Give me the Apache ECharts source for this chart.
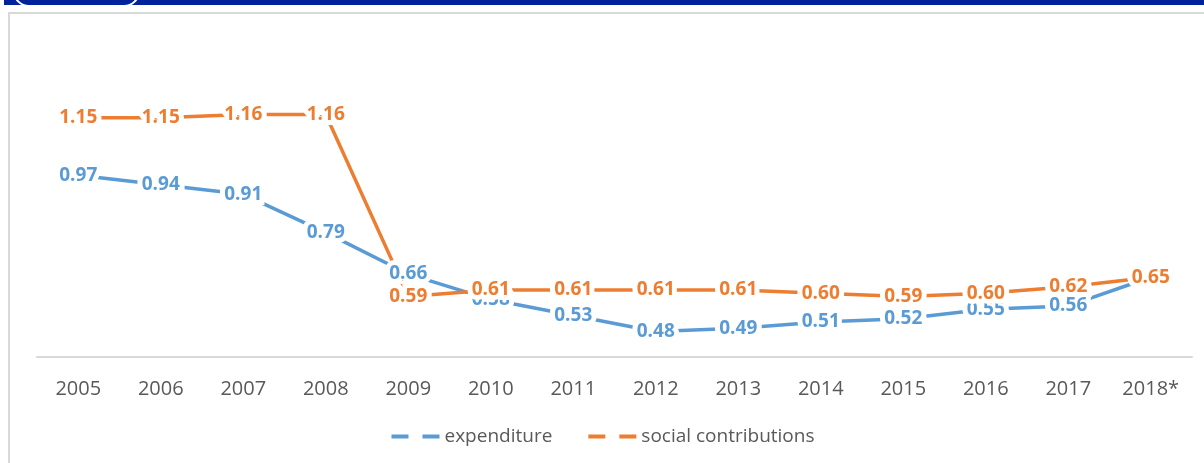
<!DOCTYPE html>
<html>
<head>
<meta charset="utf-8">
<script src="https://cdn.jsdelivr.net/npm/echarts@6/dist/echarts.min.js"></script>
<style>
  html, body { margin: 0; padding: 0; background: #fff; }
  #chart { width: 1204px; height: 463px; }
</style>
</head>
<body>
<div id="chart"></div>
<script>
const years = ['2005', '2006', '2007', '2008', '2009', '2010', '2011', '2012', '2013', '2014', '2015', '2016', '2017', '2018*'];
const expenditure = [0.97, 0.94, 0.91, 0.79, 0.66, 0.58, 0.53, 0.48, 0.49, 0.51, 0.52, 0.55, 0.56, 0.65];
const socialContributions = [1.15, 1.15, 1.16, 1.16, 0.59, 0.61, 0.61, 0.61, 0.61, 0.60, 0.59, 0.60, 0.62, 0.65];

const BLUE = '#5B9BD5';
const ORANGE = '#ED7D31';
const FONT = '"Open Sans", "Liberation Sans", sans-serif';

const chart = echarts.init(document.getElementById('chart'));

// white halo round the glyphs so the line breaks around the label
const makeLabel = (color) => ({
  show: true,
  position: 'inside',
  color: color,
  fontFamily: FONT,
  fontWeight: 'bold',
  fontSize: 19,
  textBorderColor: '#fff',
  textBorderWidth: 10,
  formatter: (p) => p.value.toFixed(2),
});

const option = {
  animation: false,
  graphic: [
    {
      type: 'rect',
      shape: { x: 4, y: 0, width: 1200, height: 5 },
      style: { fill: '#00239C' },
      z: 0,
    },
    {
      type: 'rect',
      shape: { x: 14, y: -27, width: 125, height: 33, r: 15 },
      style: { fill: '#00239C', stroke: '#fff', lineWidth: 2 },
      z: 1,
    },
    {
      type: 'rect',
      shape: { x: 9, y: 13, width: 1300, height: 500 },
      style: { fill: 'none', stroke: '#D9D9D9', lineWidth: 2 },
      z: 0,
    },
  ],
  grid: {
    left: 37,
    right: 12,
    top: 38,
    bottom: 106,
  },
  legend: {
    bottom: 12,
    left: 'center',
    itemWidth: 48,
    itemHeight: 4,
    itemGap: 34,
    textStyle: {
      fontFamily: FONT,
      fontSize: 19,
      color: '#595959',
    },
    itemStyle: { opacity: 0 },
    lineStyle: {
      type: [17, 14],
      width: 4,
    },
    data: ['expenditure', 'social contributions'],
  },
  xAxis: {
    type: 'category',
    data: years,
    axisLine: { lineStyle: { color: '#D9D9D9', width: 2 } },
    axisTick: { show: false },
    axisLabel: {
      color: '#595959',
      fontFamily: FONT,
      fontSize: 20,
      margin: 22,
    },
  },
  yAxis: {
    type: 'value',
    min: 0.4,
    max: 1.4,
    show: false,
    splitLine: { show: false },
  },
  series: [
    {
      name: 'expenditure',
      type: 'line',
      data: expenditure,
      symbol: 'circle',
      symbolSize: 1,
      lineStyle: { color: BLUE, width: 3.5 },
      itemStyle: { color: BLUE },
      label: makeLabel(BLUE),
    },
    {
      name: 'social contributions',
      type: 'line',
      data: socialContributions,
      symbol: 'circle',
      symbolSize: 1,
      lineStyle: { color: ORANGE, width: 3.5 },
      itemStyle: { color: ORANGE },
      label: makeLabel(ORANGE),
    },
  ],
};

chart.setOption(option);
</script>
</body>
</html>
